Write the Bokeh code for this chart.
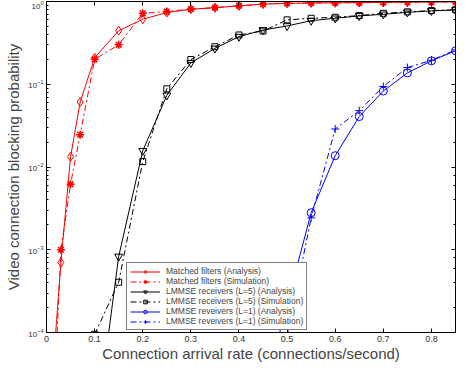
from bokeh.plotting import figure
from bokeh.models import Range1d, LinearAxis, LogAxis, Legend, LegendItem, FixedTicker
from bokeh.embed import file_html
from bokeh.resources import INLINE

# ---- data ----
x_mf = [0.01, 0.03, 0.05, 0.07, 0.1, 0.15, 0.2, 0.25, 0.3, 0.35, 0.4, 0.45, 0.5, 0.55, 0.6, 0.65, 0.7, 0.75, 0.8, 0.85]
mf_analysis = [2e-5, 7.0e-4, 0.0133, 0.061, 0.209, 0.444, 0.61, 0.735, 0.806, 0.84, 0.885, 0.93, 0.95, 0.96, 0.965, 0.97, 0.975, 0.98, 0.985, 0.99]
mf_simulation = [3e-6, 1.0e-3, 0.0062, 0.0246, 0.2, 0.30, 0.72, 0.756, 0.81, 0.845, 0.89, 0.93, 0.95, 0.96, 0.965, 0.97, 0.975, 0.98, 0.985, 0.99]

x_l5 = [0.1, 0.15, 0.2, 0.25, 0.3, 0.35, 0.4, 0.45, 0.5, 0.55, 0.6, 0.65, 0.7, 0.75, 0.8, 0.85]
l5_analysis = [5e-6, 8.3e-4, 0.0157, 0.0734, 0.181, 0.271, 0.376, 0.452, 0.506, 0.587, 0.627, 0.67, 0.70, 0.74, 0.77, 0.79]
l5_simulation = [9.5e-5, 4.05e-4, 0.0116, 0.088, 0.199, 0.284, 0.394, 0.44, 0.60, 0.627, 0.645, 0.676, 0.72, 0.75, 0.777, 0.795]

x_l1a = [0.45, 0.5, 0.55, 0.6, 0.65, 0.7, 0.75, 0.8, 0.85]
l1_analysis = [1.7e-5, 2.2e-4, 0.0028, 0.0137, 0.0407, 0.0828, 0.137, 0.192, 0.254]
x_l1s = [0.5, 0.55, 0.6, 0.65, 0.7, 0.75, 0.8, 0.85]
l1_simulation = [9e-5, 0.00243, 0.0288, 0.048, 0.094, 0.159, 0.195, 0.26]

x_ticks = [0, 0.1, 0.2, 0.3, 0.4, 0.5, 0.6, 0.7, 0.8]
x_tick_labels = {0: "0", 0.1: "0.1", 0.2: "0.2", 0.3: "0.3", 0.4: "0.4", 0.5: "0.5", 0.6: "0.6", 0.7: "0.7", 0.8: "0.8"}

labels = ["Matched filters (Analysis)", "Matched filters (Simulation)",
          "LMMSE receivers (L=5) (Analysis)", "LMMSE receivers (L=5) (Simulation)",
          "LMMSE reveivers (L=1) (Analysis)", "LMMSE reveivers (L=1) (Simulation)"]

FONT = "Liberation Sans"

p = figure(width=457, height=364, output_backend="svg", toolbar_location=None,
           y_axis_type="log", x_range=Range1d(0, 0.85), y_range=Range1d(1e-4, 1),
           min_border_left=46, min_border_right=2, min_border_top=1, min_border_bottom=0)
p.grid.visible = False
p.outline_line_color = "black"
p.outline_line_width = 1

RED = "#ff0000"
BLUE = "#0000ff"
DASH = "6 3 2 3"

r1l = p.line(x_mf, mf_analysis, color=RED, line_width=1)
r1m = p.scatter(x_mf, mf_analysis, marker="diamond", size=9, line_color=RED, fill_color=None)
r2l = p.line(x_mf, mf_simulation, color=RED, line_width=1, line_dash=DASH)
r2m = p.scatter(x_mf, mf_simulation, marker="asterisk", size=8, line_color=RED, line_width=1.5)

r3l = p.line(x_l5, l5_analysis, color="black", line_width=1)
r3m = p.scatter(x_l5, l5_analysis, marker="inverted_triangle", size=8, line_color="black", fill_color=None)
r4l = p.line(x_l5, l5_simulation, color="black", line_width=1, line_dash=DASH)
r4m = p.scatter(x_l5, l5_simulation, marker="square", size=6, line_color="black", fill_color=None)

r5l = p.line(x_l1a, l1_analysis, color=BLUE, line_width=1)
r5m = p.scatter(x_l1a, l1_analysis, marker="circle", size=8, line_color=BLUE, fill_color=None)
r6l = p.line(x_l1s, l1_simulation, color=BLUE, line_width=1, line_dash=DASH)
r6m = p.scatter(x_l1s, l1_simulation, marker="cross", size=8, line_color=BLUE)

# axes styling
for ax in [p.xaxis[0], p.yaxis[0]]:
    ax.major_tick_in = 4
    ax.major_tick_out = 0
    ax.minor_tick_in = 2
    ax.minor_tick_out = 0
    ax.axis_line_color = "black"
    ax.major_label_text_font = FONT
    ax.axis_label_text_font = FONT
    ax.axis_label_text_font_style = "normal"
    ax.axis_label_text_font_size = "15px"
    ax.major_label_text_color = "#333333"

p.xaxis[0].ticker = FixedTicker(ticks=x_ticks)
p.xaxis[0].major_label_overrides = x_tick_labels
p.xaxis[0].major_label_text_font_size = "9px"
p.xaxis[0].major_label_standoff = 3
p.xaxis[0].axis_label = "Connection arrival rate (connections/second)"
p.xaxis[0].axis_label_standoff = 0

p.yaxis[0].major_label_text_font_size = "8px"
p.yaxis[0].major_label_standoff = 3
p.yaxis[0].axis_label = "Video connection blocking probability"
p.yaxis[0].axis_label_standoff = 3

top = LinearAxis(ticker=FixedTicker(ticks=x_ticks), major_label_text_font_size="0px",
                 major_tick_in=4, major_tick_out=0, minor_tick_line_color=None)
p.add_layout(top, "above")
right = LogAxis(major_label_text_font_size="0px", major_tick_in=4, major_tick_out=0,
                minor_tick_in=2, minor_tick_out=0)
p.add_layout(right, "right")
for ax in [top, right]:
    ax.major_label_text_color = None
    ax.major_label_standoff = 0

legend = Legend(items=[
    LegendItem(label=labels[0], renderers=[r1l, r1m]),
    LegendItem(label=labels[1], renderers=[r2l, r2m]),
    LegendItem(label=labels[2], renderers=[r3l, r3m]),
    LegendItem(label=labels[3], renderers=[r4l, r4m]),
    LegendItem(label=labels[4], renderers=[r5l, r5m]),
    LegendItem(label=labels[5], renderers=[r6l, r6m]),
], location=(80, 2))
legend.label_text_font = FONT
legend.label_text_font_size = "8.5px"
legend.label_height = 9
legend.glyph_height = 9
legend.glyph_width = 30
legend.spacing = 0
legend.padding = 3
legend.margin = 0
legend.label_standoff = 6
legend.border_line_color = "black"
legend.border_line_width = 1
legend.background_fill_alpha = 1
p.add_layout(legend, "center")

open("out.html", "w").write(file_html(p, INLINE))
